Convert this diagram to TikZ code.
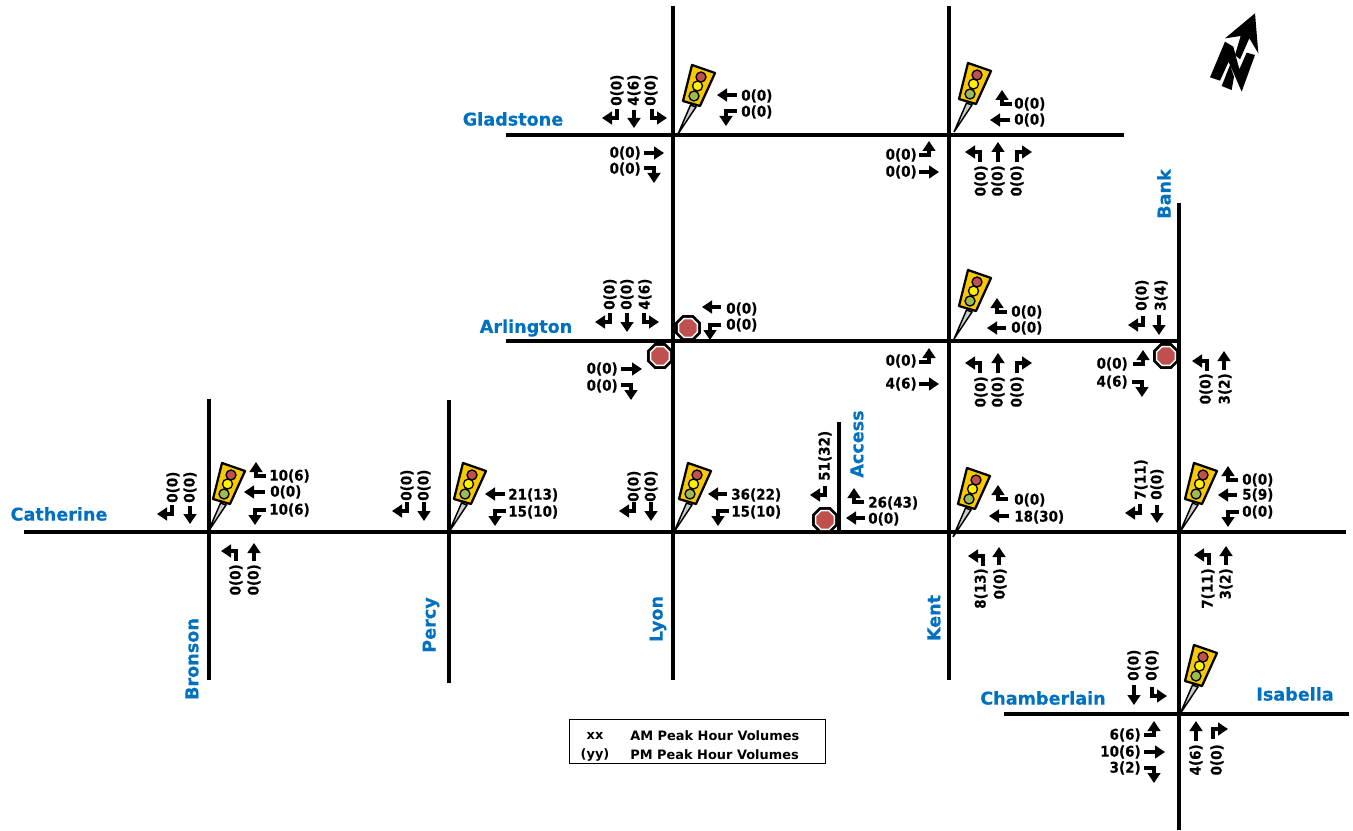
\documentclass[tikz,border=0pt]{standalone}
\usepackage{fontspec}
\setmainfont{DejaVu Sans}
\newfontfamily\volfont[FakeStretch=0.92,FakeBold=0.25]{DejaVu Sans Bold}
\newfontfamily\namefont[FakeBold=0.2]{DejaVu Sans Bold}
\usetikzlibrary{arrows.meta}
\definecolor{roadblue}{RGB}{0,112,192}
\definecolor{sighead}{RGB}{248,200,0}
\definecolor{redlamp}{RGB}{192,80,77}
\definecolor{greenlamp}{RGB}{155,187,89}
\newcounter{tn}
\tikzset{
  road/.style={draw=black,line width=3.5pt},
  arr/.style={draw=black,line width=2.5pt,line join=miter,-{Triangle[length=7.5pt,width=9.5pt]}},
  vol/.style={font=\volfont\fontsize{11}{12}\selectfont,inner sep=0pt,text=black},
  rname/.style={font=\namefont\fontsize{13.2}{14}\selectfont,inner sep=0pt,text=roadblue},
  legend/.style={font=\bfseries\fontsize{9.7}{10}\selectfont,inner sep=0pt,text=black},
  sig/.pic={
    \draw[black,line width=1.1pt,fill=gray!40] (0,0) -- (12.5,-29) -- (18,-27) -- cycle;
    \draw[black,line width=1.7pt,fill=sighead,line join=round] (14,-69) -- (37,-61) -- (22,-28) -- (5,-33) -- cycle;
    \draw[black,line width=1pt,fill=redlamp] (23,-57) circle (5);
    \draw[black,line width=1pt,fill=yellow] (19.5,-48) circle (5);
    \draw[black,line width=1pt,fill=greenlamp] (16,-38) circle (5);
  },
  stopsign/.pic={
    \fill[black] (22.5:14) -- (67.5:14) -- (112.5:14) -- (157.5:14) -- (202.5:14) -- (247.5:14) -- (292.5:14) -- (337.5:14) -- cycle;
    \fill[white] (22.5:11) -- (67.5:11) -- (112.5:11) -- (157.5:11) -- (202.5:11) -- (247.5:11) -- (292.5:11) -- (337.5:11) -- cycle;
    \fill[redlamp] (22.5:9.3) -- (67.5:9.3) -- (112.5:9.3) -- (157.5:9.3) -- (202.5:9.3) -- (247.5:9.3) -- (292.5:9.3) -- (337.5:9.3) -- cycle;
  }
}
% arrows
\newcommand\aH[3]{\draw[arr] (#1,#3) -- (#2,#3);}
\newcommand\aV[3]{\draw[arr] (#1,#2) -- (#1,#3);}
\newcommand\tDL[2]{\draw[arr,shift={(#1,#2)}] (0,-9) -- (0,0) -- (-15,0);}
\newcommand\tDR[2]{\draw[arr,shift={(#1,#2)}] (0,-9) -- (0,0) -- (15,0);}
\newcommand\tLU[2]{\draw[arr,shift={(#1,#2)}] (10,0) -- (0,0) -- (0,-14);}
\newcommand\tLD[2]{\draw[arr,shift={(#1,#2)}] (11,0) -- (0,0) -- (0,15);}
\newcommand\tRU[2]{\draw[arr,shift={(#1,#2)}] (-10,0) -- (0,0) -- (0,-14);}
\newcommand\tRD[2]{\draw[arr,shift={(#1,#2)}] (-10,0) -- (0,0) -- (0,15);}
\newcommand\tUL[2]{\draw[arr,shift={(#1,#2)}] (0,10) -- (0,0) -- (-15,0);}
\newcommand\tUR[2]{\draw[arr,shift={(#1,#2)}] (0,10) -- (0,0) -- (15,0);}
% labels
\newcommand\vW[3]{\stepcounter{tn}\node[vol,anchor=west] (v\arabic{tn}) at (#1,#2) {#3};}
\newcommand\vE[3]{\stepcounter{tn}\node[vol,anchor=east] (v\arabic{tn}) at (#1,#2) {#3};}
\newcommand\vA[3]{\stepcounter{tn}\node[vol,anchor=west,rotate=90] (v\arabic{tn}) at (#1,#2) {#3};}
\newcommand\vB[3]{\stepcounter{tn}\node[vol,anchor=east,rotate=90] (v\arabic{tn}) at (#1,#2) {#3};}
\begin{document}
\begin{tikzpicture}[x=0.75pt,y=-0.75pt]
\useasboundingbox (0,0) rectangle (1353,831);
% roads
\coordinate (lyonN) at (673,6); \coordinate (lyonS) at (673,680);
\coordinate (kentN) at (949,6); \coordinate (kentS) at (949,680);
\coordinate (bankN) at (1179,203); \coordinate (bankS) at (1179,830);
\coordinate (bronN) at (209,399); \coordinate (bronS) at (209,680);
\coordinate (percN) at (449,400); \coordinate (percS) at (449,683);
\coordinate (accN) at (839,422); \coordinate (accS) at (839,532);
\coordinate (catW) at (24,532); \coordinate (catE) at (1346,532);
\coordinate (glaW) at (506,135); \coordinate (glaE) at (1124,135);
\coordinate (arlW) at (506,341); \coordinate (arlE) at (1179,341);
\coordinate (chaW) at (1004,714); \coordinate (isaE) at (1349,714);
\foreach \a/\b in {lyonN/lyonS,kentN/kentS,bankN/bankS,bronN/bronS,percN/percS,accN/accS,catW/catE,glaW/glaE,arlW/arlE,chaW/isaE}
  \draw[road] (\a) -- (\b);
% signals
\foreach \p in {(678,134),(954,132),(954,339),(208,532),(449,532),(674,532),(953,537),(1180,532),(1180,714)}
  \pic at \p {sig};
% stop signs
\foreach \p in {(688,328),(660,356),(825,520),(1166,356)}
  \pic at \p {stopsign};
% road names
\node[rname] (gladstone) at (513,119) {Gladstone};
\node[rname] (arlington) at (526,328) {Arlington};
\node[rname] (catherine) at (59,514) {Catherine};
\node[rname] (chamberlain) at (1043,698) {Chamberlain};
\node[rname] (isabella) at (1295,694) {Isabella};
\node[rname,rotate=90] (bronson) at (192,659) {Bronson};
\node[rname,rotate=90] (percy) at (431,625) {Percy};
\node[rname,rotate=90] (lyon) at (658,619) {Lyon};
\node[rname,rotate=90] (kent) at (934,618) {Kent};
\node[rname,rotate=90] (access) at (857,444) {Access};
\node[rname,rotate=90] (bank) at (1164,194) {Bank};
% Gladstone / Lyon
\vA{617}{106}{0(0)} \vA{634}{106}{4(6)} \vA{651}{106}{0(0)}
\tDL{617}{118} \aV{634}{110}{128} \tDR{652}{118}
\aH{737}{717}{95} \vW{741}{96}{0(0)}
\tLD{726}{111} \vW{741}{112}{0(0)}
\aH{644}{664}{153} \vE{641}{153}{0(0)}
\tRD{654}{168} \vE{641}{169}{0(0)}
% Gladstone / Kent
\tLU{1002}{104} \vW{1014}{104}{0(0)}
\aH{1010}{990}{120} \vW{1014}{120}{0(0)}
\tRU{929}{155} \vE{917}{155}{0(0)}
\aH{919}{939}{172} \vE{917}{172}{0(0)}
\tUL{980}{152} \aV{998}{162}{142} \tUR{1017}{152}
\vB{981}{165}{0(0)} \vB{998}{165}{0(0)} \vB{1017}{165}{0(0)}
% Arlington / Lyon
\vA{610}{310}{0(0)} \vA{627}{310}{0(0)} \vA{645}{310}{4(6)}
\tDL{610}{322} \aV{627}{313}{332} \tDR{644}{322}
\aH{721}{702}{307} \vW{726}{309}{0(0)}
\tLD{710}{325} \vW{726}{325}{0(0)}
\aH{621}{642}{369} \vE{618}{369}{0(0)}
\tRD{631}{385} \vE{618}{386}{0(0)}
% Arlington / Kent
\tLU{997}{312} \vW{1011}{312}{0(0)}
\aH{1006}{987}{328} \vW{1011}{328}{0(0)}
\tRU{929}{362} \vE{917}{361}{0(0)}
\aH{919}{939}{384} \vE{917}{384}{4(6)}
\tUL{980}{363} \aV{998}{373}{353} \tUR{1017}{363}
\vB{981}{376}{0(0)} \vB{998}{376}{0(0)} \vB{1017}{376}{0(0)}
% Arlington / Bank
\vA{1142}{311}{0(0)} \vA{1161}{311}{3(4)}
\tDL{1143}{325} \aV{1159}{315}{335}
\tRU{1143}{364} \vE{1128}{364}{0(0)}
\tRD{1142}{382} \vE{1128}{382}{4(6)}
\tUL{1207}{361} \aV{1224}{370}{351}
\vB{1206}{373}{0(0)} \vB{1225}{373}{3(2)}
% Catherine / Bronson
\vA{173}{503}{0(0)} \vA{190}{503}{0(0)}
\tDL{172}{514} \aV{190}{506}{524}
\tLU{256}{476} \vW{269}{476}{10(6)}
\aH{265}{244}{492} \vW{270}{492}{0(0)}
\tLD{255}{510} \vW{269}{510}{10(6)}
\tUL{236}{551} \aV{254}{561}{543}
\vB{236}{564}{0(0)} \vB{254}{564}{0(0)}
% Catherine / Percy
\vA{407}{501}{0(0)} \vA{424}{501}{0(0)}
\tDL{407}{511} \aV{424}{502}{521}
\aH{505}{485}{494} \vW{508}{495}{21(13)}
\tLD{495}{511} \vW{508}{512}{15(10)}
% Catherine / Lyon
\vA{634}{502}{0(0)} \vA{651}{502}{0(0)}
\tDL{634}{511} \aV{651}{502}{521}
\aH{727}{708}{494} \vW{731}{495}{36(22)}
\tLD{718}{511} \vW{731}{512}{15(10)}
% Access
\vA{825}{481}{51(32)}
\tDL{825}{495}
\tLU{854}{502} \vW{868}{503}{26(43)}
\aH{865}{846}{518} \vW{868}{519}{0(0)}
% Catherine / Kent
\tLU{998}{499} \vW{1014}{500}{0(0)}
\aH{1009}{989}{516} \vW{1014}{517}{18(30)}
\tUL{983}{556} \aV{999}{565}{547}
\vB{981}{568}{8(13)} \vB{1000}{568}{0(0)}
% Catherine / Bank
\vA{1141}{500}{7(11)} \vA{1157}{500}{0(0)}
\tDL{1140}{513} \aV{1157}{505}{523}
\tLU{1228}{480} \vW{1242}{480}{0(0)}
\aH{1237}{1218}{495} \vW{1242}{495}{5(9)}
\tLD{1228}{512} \vW{1242}{512}{0(0)}
\tUL{1209}{555} \aV{1226}{565}{546}
\vB{1208}{568}{7(11)} \vB{1226}{568}{3(2)}
% Isabella
\vA{1134}{681}{0(0)} \vA{1152}{681}{0(0)}
\aV{1134}{685}{705} \tDR{1152}{696}
\tRU{1154}{735} \vE{1141}{735}{6(6)}
\aH{1144}{1165}{752} \vE{1141}{752}{10(6)}
\tRD{1154}{768} \vE{1141}{768}{3(2)}
\aV{1196}{741}{721} \tUR{1213}{729}
\vB{1196}{744}{4(6)} \vB{1217}{744}{0(0)}
% legend
\node[draw=black,line width=1.1pt,minimum width=192pt,minimum height=33pt,anchor=north west,inner sep=0pt] (legendbox) at (569,719) {};
\node[legend] (xx) at (595,736) {xx};
\node[legend] (yy) at (595,755) {(yy)};
\node[legend,anchor=west] (am) at (630,736) {AM Peak Hour Volumes};
\node[legend,anchor=west] (pm) at (630,755) {PM Peak Hour Volumes};
% north arrow
\begin{scope}[shift={(1190,0)},x=0.25pt,y=-0.25pt]
\fill[black] (195,40) -- (105,115) -- (152,108) -- (135,165) -- (150,178) -- (178,115) -- (205,160) -- cycle;
\fill[black] (105,125) -- (60,232) -- (90,242) -- (116,185) -- (132,230) -- (125,270) -- (95,258) -- (122,190) -- (116,185) -- (155,275) -- (195,165) -- (170,158) -- (148,208) -- (130,140) -- cycle;
\end{scope}
\end{tikzpicture}
\end{document}
